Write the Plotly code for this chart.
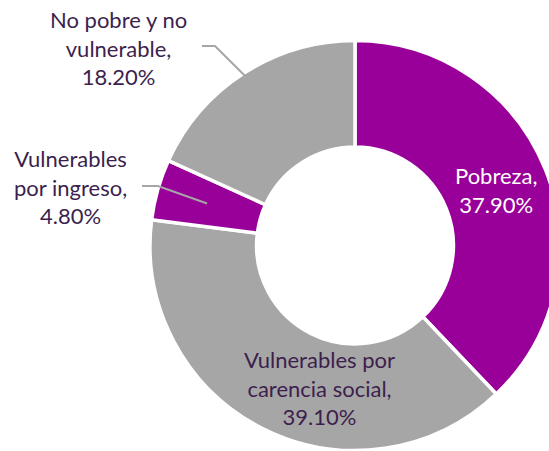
import plotly.graph_objects as go
import math

# ---- data ----
labels = ["Pobreza", "Vulnerables por carencia social", "Vulnerables por ingreso", "No pobre y no vulnerable"]
label_text = ["Pobreza,", "Vulnerables por<br>carencia social,", "Vulnerables<br>por ingreso,", "No pobre y no<br>vulnerable,"]
values = [37.9, 39.1, 4.8, 18.2]
colors = ["#990099", "#A6A6A6", "#990099", "#A6A6A6"]

OFF = 0
W, H = 566, 458
CX, CY, R = 355, 245.5, 205  # pie centre / radius in window pixels
HOLE = 0.48

def px(x):
    return (x - OFF) / W

def py(y):
    return 1 - (y - OFF) / H

fig = go.Figure()
fig.add_trace(go.Pie(
    labels=labels,
    values=values,
    sort=False,
    direction="clockwise",
    rotation=0,
    hole=HOLE,
    marker=dict(colors=colors, line=dict(color="white", width=3.5)),
    textinfo="none",
    hoverinfo="label+percent",
    showlegend=False,
    domain=dict(x=[px(CX - R), px(CX + R)], y=[py(CY + R), py(CY - R)]),
))

# label block centres (window pixels) and text colours
label_pos = [(495.5, 190), (319.5, 388), (70, 187), (118.5, 48)]
text_colors = ["white", "#3D1F4D", "#3D1F4D", "#3D1F4D"]

for i in range(len(values)):
    fig.add_annotation(
        x=px(label_pos[i][0]), y=py(label_pos[i][1]), xref="paper", yref="paper",
        text=f"{label_text[i]}<br>{values[i]:.2f}%",
        showarrow=False, xanchor="center", yanchor="middle", align="center",
        font=dict(family="Lato", size=22, color=text_colors[i]),
    )

# leader lines for the outside labels (start, elbow) -> slice mid-angle point
cum = [sum(values[:i]) for i in range(len(values))]
leaders = {3: ((202, 46), (215, 46), 0.97), 2: ((142, 186), (158, 186), 0.75)}
for i, (start, elbow, rf) in leaders.items():
    mid = (cum[i] + values[i] / 2) / sum(values) * 2 * math.pi
    ex = CX + rf * R * math.sin(mid)
    ey = CY - rf * R * math.cos(mid)
    path = (f"M {px(start[0])},{py(start[1])} L {px(elbow[0])},{py(elbow[1])} "
            f"L {px(ex)},{py(ey)}")
    fig.add_shape(type="path", path=path, xref="paper", yref="paper",
                  line=dict(color="#A6A6A6", width=2))

fig.update_layout(
    width=W, height=H,
    margin=dict(l=0, r=0, t=0, b=0),
    paper_bgcolor="white", plot_bgcolor="white",
)

fig.write_html(
    "out.html",
    config={"displayModeBar": False},
    post_script="document.body.style.margin='0';document.body.style.overflow='hidden';"
                "document.documentElement.style.overflow='hidden';",
)
